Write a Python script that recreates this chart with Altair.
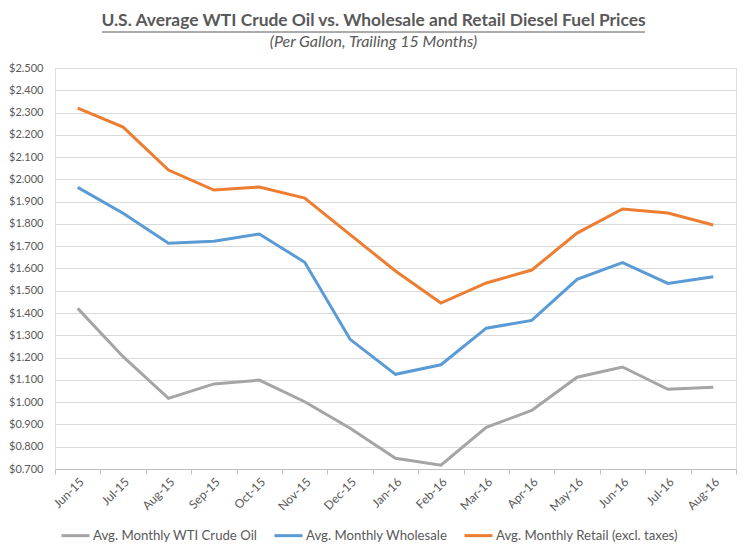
import altair as alt
import pandas as pd

months = ["Jun-15", "Jul-15", "Aug-15", "Sep-15", "Oct-15", "Nov-15", "Dec-15",
          "Jan-16", "Feb-16", "Mar-16", "Apr-16", "May-16", "Jun-16", "Jul-16", "Aug-16"]
wti = [1.421, 1.204, 1.017, 1.082, 1.099, 1.002, 0.883, 0.748, 0.717, 0.887,
       0.963, 1.112, 1.158, 1.058, 1.067]
wholesale = [1.964, 1.848, 1.713, 1.722, 1.755, 1.628, 1.282, 1.125, 1.168, 1.332,
             1.367, 1.551, 1.626, 1.533, 1.563]
retail = [2.320, 2.235, 2.042, 1.952, 1.966, 1.916, 1.752, 1.589, 1.445, 1.535,
          1.593, 1.759, 1.867, 1.849, 1.795]
series = ["Avg. Monthly WTI Crude Oil", "Avg. Monthly Wholesale",
          "Avg. Monthly Retail (excl. taxes)"]
colors = ["#a5a5a5", "#5b9bd5", "#ed7d31"]
y_ticks = [round(0.7 + 0.1 * i, 1) for i in range(19)]

rows = []
for name, vals in zip(series, [wti, wholesale, retail]):
    for m, v in zip(months, vals):
        rows.append({"month": m, "price": v, "series": name})
df = pd.DataFrame(rows)

FONT = "Lato"
TXT = "#595959"

lines = alt.Chart(df).mark_line(strokeWidth=3).encode(
    x=alt.X("month:N", sort=months, bandPosition=0.5,
            scale=alt.Scale(type="band", paddingInner=0, paddingOuter=0),
            axis=alt.Axis(title=None, labelAngle=-45, grid=False, tickBand="extent",
                          domainColor="#bfbfbf", tickColor="#bfbfbf", tickSize=5,
                          labelColor=TXT, labelFontSize=12, labelFont=FONT,
                          labelPadding=2)),
    y=alt.Y("price:Q", scale=alt.Scale(domain=[0.7, 2.5], nice=False, zero=False),
            axis=alt.Axis(title=None, format="$.3f", values=y_ticks, domain=False,
                          ticks=False, gridColor="#d9d9d9", labelPadding=12,
                          labelColor=TXT, labelFontSize=11, labelFont=FONT)),
    color=alt.Color("series:N", scale=alt.Scale(domain=series, range=colors),
                    legend=alt.Legend(title=None, orient="none", legendX=5, legendY=452,
                                      direction="horizontal", symbolType="stroke",
                                      symbolStrokeWidth=3, symbolSize=784,
                                      labelFontSize=13.2, labelFont=FONT, labelColor=TXT,
                                      labelOffset=2, columnPadding=10, labelLimit=400)),
)

underline = alt.Chart(pd.DataFrame({"k": [0]})).mark_rule(
    color=TXT, strokeWidth=1
).encode(x=alt.value(47), x2=alt.value(590), y=alt.value(-36))

chart = alt.layer(lines, underline).properties(
    width=681, height=401,
    autosize=alt.AutoSizeParams(type="none"),
    padding={"left": 47, "top": 60, "right": 3, "bottom": 80},
    title=alt.TitleParams(
        text="U.S. Average WTI Crude Oil vs. Wholesale and Retail Diesel Fuel Prices",
        subtitle="(Per Gallon, Trailing 15 Months)",
        font=FONT, fontSize=17.4, fontWeight="bold", color=TXT,
        subtitleFont=FONT, subtitleFontSize=16, subtitleFontStyle="italic",
        subtitleColor=TXT, anchor="middle", dx=-22, offset=-18, subtitlePadding=4),
).configure_view(stroke=None).configure(background="white")

chart.save("out.html", embed_options={"renderer": "svg", "actions": False})
